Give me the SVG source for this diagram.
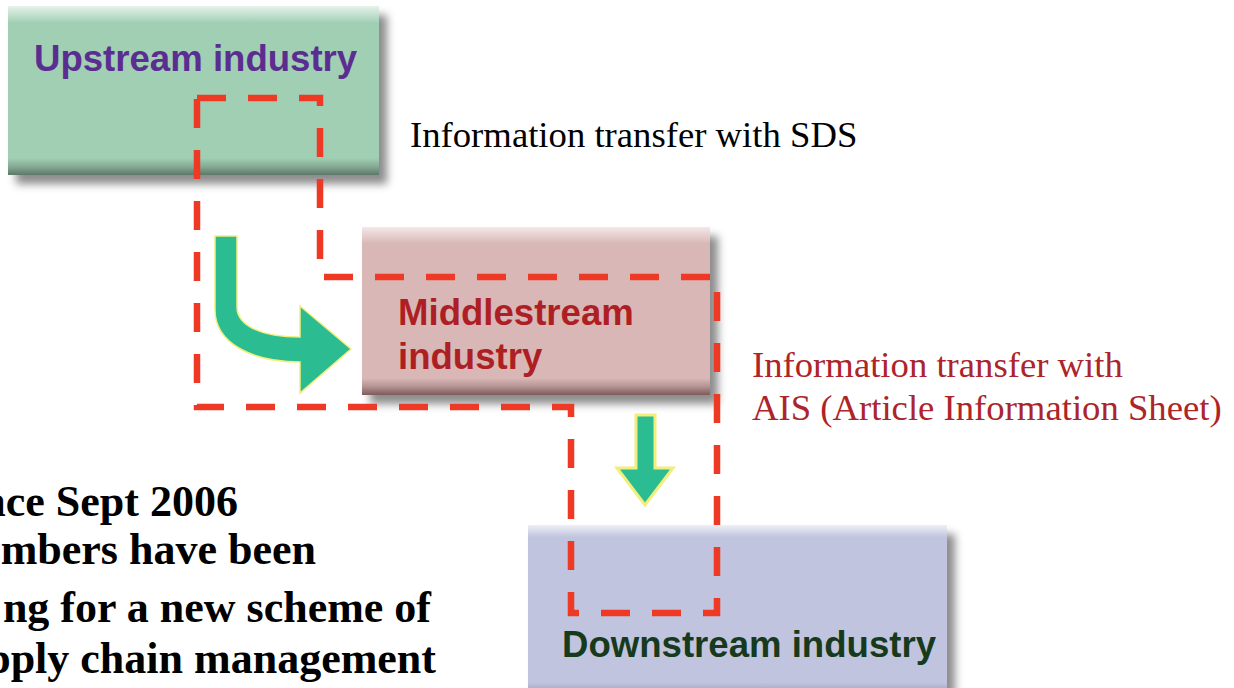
<svg xmlns="http://www.w3.org/2000/svg" width="1234" height="688" viewBox="0 0 1234 688">
<defs>
<linearGradient id="gUp" x1="0" y1="0" x2="0" y2="1">
<stop offset="0" stop-color="#e8f2ec"/><stop offset="0.1" stop-color="#a0cfb4"/><stop offset="0.9" stop-color="#a0cfb4"/><stop offset="0.95" stop-color="#86aa95"/><stop offset="1" stop-color="#5d7869"/>
</linearGradient>
<linearGradient id="gMid" x1="0" y1="0" x2="0" y2="1">
<stop offset="0" stop-color="#f4e8e8"/><stop offset="0.1" stop-color="#d9b7b6"/><stop offset="0.9" stop-color="#d9b7b6"/><stop offset="0.95" stop-color="#b59392"/><stop offset="1" stop-color="#7e5a5a"/>
</linearGradient>
<linearGradient id="gDown" x1="0" y1="0" x2="0" y2="1">
<stop offset="0" stop-color="#eef0f6"/><stop offset="0.07" stop-color="#c0c4de"/><stop offset="0.9" stop-color="#c0c4de"/><stop offset="0.95" stop-color="#a4a8bf"/><stop offset="1" stop-color="#80849a"/>
</linearGradient>
<filter id="shadow" x="-10%" y="-10%" width="130%" height="140%">
<feDropShadow dx="8" dy="9" stdDeviation="4" flood-color="#000" flood-opacity="0.45"/>
</filter>
</defs>
<style>
.box{filter:url(#shadow)}
.node{font-family:"Liberation Sans",Arial,sans-serif;font-weight:bold;font-size:36.6px}
.serif{font-family:"Liberation Serif","Times New Roman",serif;font-size:36.7px}
.note{font-family:"Liberation Serif","Times New Roman",serif;font-size:44px;font-weight:bold;fill:#000}
.scope{fill:none;stroke:#ee3a24;stroke-width:6.5;stroke-dasharray:29 22}
.arrow{fill:#2bbc92;stroke:#f2ee7c}
</style>
<rect width="1234" height="688" fill="#fff"/>
<g id="upstream">
<rect class="box" x="8" y="6" width="371" height="169" fill="url(#gUp)"/>
<text class="node" x="34" y="71" fill="#5c2d91">Upstream industry</text>
</g>
<g id="middlestream">
<rect class="box" x="362" y="227" width="348" height="168" fill="url(#gMid)"/>
<text class="node" x="398" y="325" fill="#ae1f24">Middlestream</text>
<text class="node" x="398" y="369" fill="#ae1f24">industry</text>
</g>
<g id="downstream">
<rect class="box" x="528" y="525" width="419" height="175" fill="url(#gDown)"/>
<text class="node" x="562" y="657" fill="#173a1c">Downstream industry</text>
</g>
<g id="scope-outline">
<path class="scope" d="M197,98 L320,98 L320,277 L717,277 L717,613 L571,613 L571,407 L197,407 Z"/>
</g>
<g id="connectors">
<path class="arrow" stroke-width="1.5" d="M215,236 L237,236 L237,307 C237,326 262,337 300,337 L300,306 L351,349 L300,393 L300,362 C250,362 215,342 215,310 Z"/>
<path class="arrow" stroke-width="3" d="M636,415 L655,415 L655,468 L673,468 L645,505 L617,468 L636,468 Z"/>
</g>
<g id="label-sds">
<text class="serif" x="410" y="147" fill="#000">Information transfer with SDS</text>
</g>
<g id="label-ais">
<text class="serif" x="752" y="377" fill="#ad2429">Information transfer with</text>
<text class="serif" x="752" y="420" fill="#ad2429">AIS (Article Information Sheet)</text>
</g>
<g id="note" text-anchor="end">
<text class="note" x="238" y="516">nce Sept 2006</text>
<text class="note" x="316" y="564">mbers have been</text>
<text class="note" x="431" y="622">ng for a new scheme of</text>
<text class="note" x="436" y="673">pply chain management</text>
</g>
</svg>
